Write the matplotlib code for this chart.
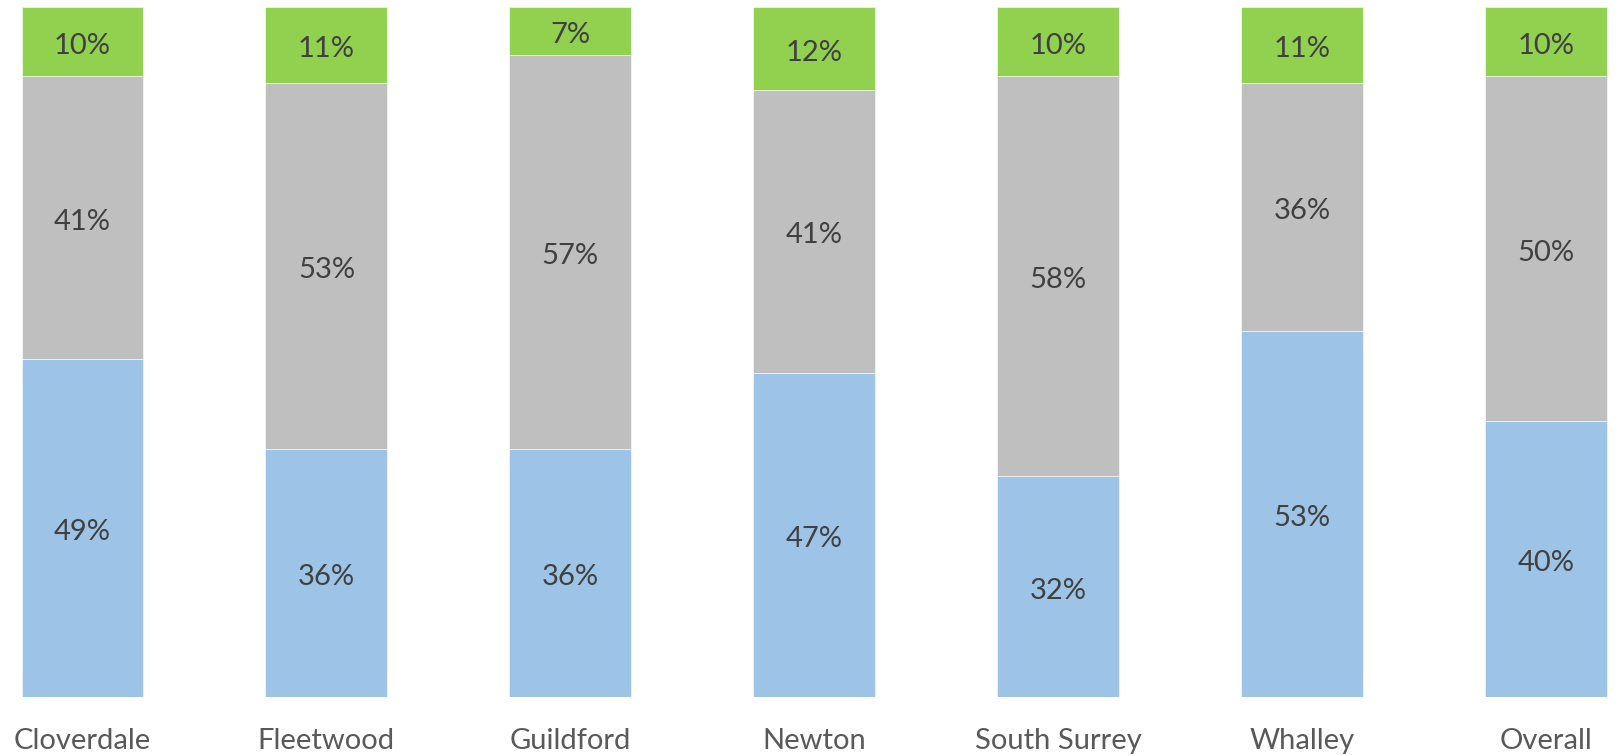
import matplotlib
matplotlib.use("Agg")
import matplotlib.pyplot as plt

categories = ["Cloverdale", "Fleetwood", "Guildford", "Newton", "South Surrey", "Whalley", "Overall"]
blue_vals = [49, 36, 36, 47, 32, 53, 40]
gray_vals = [41, 53, 57, 41, 58, 36, 50]
green_vals = [10, 11, 7, 12, 10, 11, 10]

colors = ["#9DC3E6", "#BFBFBF", "#92D050"]
plt.rcParams["font.family"] = ["Lato", "DejaVu Sans"]

fig = plt.figure(figsize=(16.17, 7.55), dpi=100)
ax = fig.add_axes([0, 58 / 755, 1, 690 / 755])

x = list(range(len(categories)))
bottom = [0] * len(categories)
for vals, col in zip([blue_vals, gray_vals, green_vals], colors):
    ax.bar(x, vals, width=0.5, bottom=bottom, color=col,
           edgecolor="white", linewidth=0.4)
    for xi, b, v in zip(x, bottom, vals):
        ax.text(xi, b + v / 2 - 0.6, f"{v}%", ha="center", va="center",
                fontsize=21, color="#404040")
    bottom = [b + v for b, v in zip(bottom, vals)]

ax.set_xlim(-82.5 / 243.9, (1617 - 82.5) / 243.9)
ax.set_ylim(0, 100)
ax.axis("off")

for xi, name in zip(x, categories):
    ax.text(xi, -6.4, name, ha="center", va="center", fontsize=21,
            color="#595959", clip_on=False)

fig.savefig("out.png", dpi=100)
